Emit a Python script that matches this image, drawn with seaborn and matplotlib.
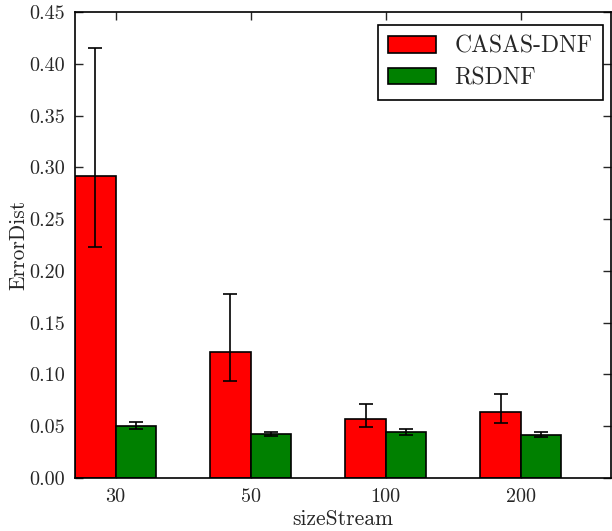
import numpy as np
import pandas as pd
import matplotlib
matplotlib.use("Agg")
import matplotlib.pyplot as plt
import seaborn as sns

# Values
sizes = ["30", "50", "100", "200"]
methods = ["CASAS-DNF", "RSDNF"]
casas_mean = [0.2915, 0.1215, 0.0573, 0.0634]
casas_low = [0.223, 0.0937, 0.049, 0.0528]
casas_high = [0.415, 0.178, 0.0715, 0.081]
rsdnf_mean = [0.0502, 0.0425, 0.0441, 0.0418]
rsdnf_low = [0.0478, 0.0406, 0.0415, 0.0393]
rsdnf_high = [0.0540, 0.0440, 0.0470, 0.0444]

df = pd.DataFrame({
    "sizeStream": sizes * 2,
    "method": [methods[0]] * 4 + [methods[1]] * 4,
    "ErrorDist": casas_mean + rsdnf_mean,
})

sns.set_style("ticks")
plt.rcParams["font.family"] = ["cmr10", "DejaVu Serif"]
plt.rcParams["axes.formatter.use_mathtext"] = True
plt.rcParams["mathtext.fontset"] = "cm"

fig = plt.figure(figsize=(6.12, 5.31), dpi=100)
ax = fig.add_axes([0.1225, 0.0998, 0.876, 0.8776])

sns.barplot(data=df, x="sizeStream", y="ErrorDist", hue="method",
            palette=["#ff0000", "#008000"], width=0.6, errorbar=None,
            edgecolor="black", linewidth=1.2, saturation=1, ax=ax)

# asymmetric error bars placed on the drawn bars
means = casas_mean + rsdnf_mean
lows = casas_low + rsdnf_low
highs = casas_high + rsdnf_high
for bar, m, lo, hi in zip(ax.patches[:8], means, lows, highs):
    xc = bar.get_x() + bar.get_width() / 2
    ax.errorbar(xc, m, yerr=[[m - lo], [hi - m]], fmt="none",
                ecolor="black", elinewidth=1.2, capsize=5, capthick=1.2)

ax.set_ylim(0, 0.45)
ax.set_xlim(-0.3, 3.667)
ax.set_yticks(np.arange(0, 0.451, 0.05))
ax.yaxis.set_major_formatter(matplotlib.ticker.FormatStrFormatter("%.2f"))
ax.tick_params(direction="in", top=True, right=True, length=6, width=1,
               labelsize=14.5, pad=7)
for s in ax.spines.values():
    s.set_visible(True)
    s.set_linewidth(1.2)
    s.set_color("black")

ax.set_xlabel("sizeStream", fontsize=15.5, labelpad=3)
ax.set_ylabel("ErrorDist", fontsize=15.5, labelpad=1)

leg = ax.legend(loc="upper right", bbox_to_anchor=(0.985, 0.972),
                borderaxespad=0, fontsize=17, fancybox=False,
                edgecolor="black", framealpha=1, handlelength=2.0,
                handleheight=0.7, borderpad=0.45, labelspacing=0.4,
                handletextpad=0.8)
leg.get_frame().set_linewidth(1.2)

fig.savefig("out.png", dpi=100)
